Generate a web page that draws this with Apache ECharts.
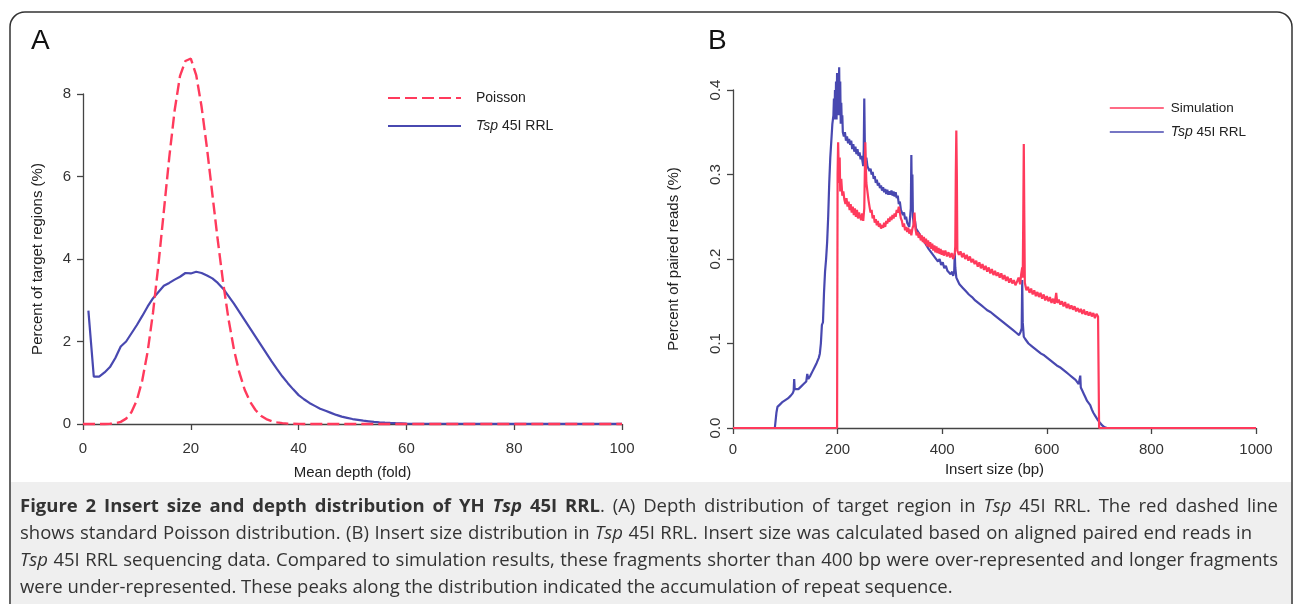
<!DOCTYPE html>
<html>
<head>
<meta charset="utf-8">
<script src="https://cdn.jsdelivr.net/npm/echarts@6.0.0/dist/echarts.min.js"></script>
<style>
  html, body { margin: 0; padding: 0; background: #fff; }
  #chart { width: 1295px; height: 604px; }
</style>
</head>
<body>
<div id="chart"></div>
<script>
// panel A: depth distribution
const depth = [0,1,2,3,4,5,6,7,8,9,10,11,12,13,14,15,16,17,18,19,20,21,22,23,24,25,26,27,28,29,30,
  31,32,33,34,35,36,37,38,39,40,41,42,43,44,45,46,47,48,49,50,51,52,53,54,55,56,57,58,59,60,70,80,90,100]
const poisson = [0,0,0,0,0,0.005,0.018,0.052,0.13,0.29,0.58,1.06,1.76,2.71,3.87,5.16,6.46,7.6,8.44,8.8,8.86,
  8.46,7.69,6.69,5.57,4.46,3.43,2.54,1.81,1.25,0.83,0.54,0.34,0.2,0.12,0.07,0.04,0.02,0.01,0.006,0.003,
  0,0,0,0,0,0,0,0,0,0,0,0,0,0,0,0,0,0,0,0,0,0,0,0]
const tspDepth = [null,2.75,1.15,1.15,1.25,1.38,1.6,1.88,2.0,2.2,2.4,2.62,2.85,3.05,3.2,3.35,3.42,3.5,3.57,3.66,3.65,
  3.69,3.66,3.6,3.53,3.42,3.28,3.1,2.92,2.72,2.52,2.32,2.12,1.92,1.72,1.52,1.33,1.15,0.99,0.84,0.7,
  0.6,0.51,0.44,0.37,0.32,0.27,0.22,0.18,0.15,0.12,0.1,0.08,0.065,0.05,0.04,0.032,0.025,0.02,0.016,0.012,
  0.006,0.004,0.003,0.003]
const depthTicks = [0,20,40,60,80,100]
const pctTicks = [0,2,4,6,8]

// panel B: insert size distribution, [bp, percent]
const simB = [[0,0],[199,0],[200,0.3],[201,0.338],[202,0.31],[203,0.29],[204,0.32],[205,0.28],[207,0.295],[209,0.275],
  [211,0.28],[213,0.27],[215,0.265],[217,0.272],[219,0.262],[221,0.268],[223,0.258],[225,0.265],[227,0.255],[229,0.262],
  [231,0.252],[233,0.26],[235,0.25],[237,0.258],[239,0.248],[241,0.255],[243,0.25],[245,0.246],[247,0.254],[249,0.245],
  [251,0.26],[252,0.3],[253,0.338],[254,0.31],[255,0.29],[257,0.28],[259,0.27],[261,0.262],[263,0.255],[265,0.258],
  [267,0.248],[269,0.252],[271,0.243],[273,0.247],[275,0.24],[277,0.245],[279,0.238],[281,0.242],[283,0.236],[285,0.24],
  [287,0.237],[289,0.243],[291,0.238],[293,0.245],[295,0.242],[297,0.248],[299,0.244],[301,0.25],[303,0.246],[305,0.252],
  [307,0.248],[309,0.254],[311,0.25],[313,0.258],[315,0.255],[317,0.262],[319,0.255],[321,0.248],[323,0.245],[325,0.238],
  [327,0.242],[329,0.234],[331,0.238],[333,0.232],[335,0.237],[337,0.23],[339,0.235],[341,0.228],[343,0.236],[345,0.24],
  [347,0.255],[349,0.235],[351,0.228],[353,0.232],[355,0.225],[357,0.23],[359,0.222],[361,0.228],[363,0.22],[365,0.226],
  [367,0.218],[369,0.224],[371,0.215],[373,0.222],[375,0.214],[377,0.22],[379,0.212],[381,0.218],[383,0.21],[385,0.216],
  [387,0.208],[389,0.215],[391,0.207],[393,0.213],[395,0.206],[397,0.212],[399,0.205],[401,0.21],[403,0.204],[406,0.21],
  [409,0.203],[412,0.208],[415,0.202],[418,0.207],[421,0.2],[424,0.206],[425,0.215],[426,0.3],[427,0.352],[428,0.3],
  [429,0.21],[432,0.205],[435,0.209],[438,0.202],[441,0.207],[444,0.2],[447,0.205],[450,0.198],[453,0.203],[456,0.196],
  [459,0.2],[462,0.194],[465,0.198],[468,0.191],[471,0.196],[474,0.189],[477,0.194],[480,0.187],[483,0.192],[486,0.185],
  [489,0.19],[492,0.183],[495,0.188],[498,0.181],[501,0.186],[504,0.18],[507,0.184],[510,0.178],[513,0.183],[516,0.176],
  [519,0.181],[522,0.174],[525,0.179],[528,0.172],[531,0.177],[534,0.171],[537,0.175],[540,0.169],[543,0.173],[546,0.178],
  [549,0.17],[551,0.182],[553,0.19],[554,0.178],[555,0.25],[556,0.336],[557,0.25],[558,0.172],[561,0.163],[564,0.167],
  [567,0.16],[570,0.165],[573,0.158],[576,0.163],[579,0.156],[582,0.161],[585,0.155],[588,0.16],[591,0.153],[594,0.158],
  [597,0.151],[600,0.156],[603,0.15],[606,0.155],[609,0.148],[612,0.153],[615,0.147],[618,0.16],[620,0.148],[623,0.152],
  [626,0.146],[629,0.15],[632,0.144],[635,0.149],[638,0.142],[641,0.147],[644,0.141],[647,0.145],[650,0.14],[653,0.144],
  [656,0.138],[659,0.142],[662,0.137],[665,0.141],[668,0.135],[671,0.14],[674,0.134],[677,0.138],[680,0.133],[683,0.137],
  [686,0.132],[689,0.136],[692,0.13],[695,0.135],[698,0.132],[699,0.13],[700,0],[1000,0]]
const tspB = [[0,0],[80,0],[83,0.018],[85,0.025],[90,0.028],[95,0.031],[100,0.033],[105,0.035],[110,0.038],[114,0.041],
  [116,0.044],[117,0.058],[118,0.046],[120,0.044],[125,0.046],[130,0.049],[135,0.052],[140,0.055],[142,0.064],[144,0.058],
  [148,0.062],[152,0.067],[156,0.072],[160,0.077],[164,0.083],[166,0.088],[168,0.1],[170,0.122],[172,0.125],[174,0.16],
  [176,0.185],[178,0.2],[180,0.22],[182,0.25],[184,0.29],[186,0.32],[188,0.34],[190,0.36],[192,0.37],[193,0.39],
  [194,0.365],[195,0.4],[196,0.37],[197,0.41],[198,0.365],[199,0.42],[200,0.37],[201,0.415],[202,0.38],[203,0.427],
  [204,0.37],[205,0.41],[206,0.36],[207,0.385],[208,0.36],[209,0.37],[210,0.35],[212,0.345],[214,0.35],[216,0.34],
  [218,0.345],[220,0.337],[222,0.342],[224,0.335],[226,0.34],[228,0.33],[230,0.336],[232,0.327],[234,0.333],[236,0.324],
  [238,0.33],[240,0.322],[242,0.326],[244,0.318],[246,0.322],[248,0.314],[249,0.31],[250,0.33],[251,0.39],[252,0.34],
  [253,0.31],[255,0.32],[257,0.31],[259,0.312],[261,0.304],[263,0.307],[265,0.3],[267,0.303],[269,0.295],[271,0.298],
  [273,0.29],[275,0.294],[277,0.287],[279,0.29],[281,0.284],[283,0.287],[285,0.281],[287,0.285],[289,0.279],[291,0.283],
  [293,0.277],[295,0.282],[297,0.276],[299,0.28],[301,0.276],[303,0.281],[305,0.275],[307,0.28],[309,0.274],[311,0.279],
  [313,0.272],[315,0.275],[317,0.265],[319,0.268],[321,0.258],[323,0.26],[325,0.252],[327,0.255],[329,0.247],[331,0.25],
  [333,0.243],[335,0.245],[337,0.238],[339,0.24],[340,0.26],[341,0.323],[342,0.27],[343,0.3],[344,0.25],[346,0.24],
  [348,0.245],[350,0.236],[353,0.238],[356,0.23],[359,0.232],[362,0.224],[365,0.226],[368,0.218],[371,0.22],[374,0.212],
  [377,0.214],[380,0.207],[383,0.209],[386,0.202],[389,0.204],[392,0.197],[395,0.2],[398,0.193],[401,0.196],[404,0.189],
  [407,0.192],[410,0.186],[413,0.188],[416,0.182],[419,0.185],[421,0.18],[423,0.186],[424,0.207],[425,0.19],[427,0.178],
  [430,0.174],[433,0.17],[436,0.172],[439,0.166],[442,0.168],[445,0.162],[448,0.164],[451,0.158],[454,0.16],[457,0.155],
  [460,0.157],[463,0.151],[466,0.153],[469,0.148],[472,0.15],[475,0.145],[478,0.147],[481,0.142],[484,0.144],[487,0.139],
  [490,0.141],[493,0.137],[496,0.139],[499,0.134],[502,0.136],[505,0.131],[508,0.133],[511,0.128],[514,0.13],[517,0.125],
  [520,0.127],[523,0.122],[526,0.124],[529,0.119],[532,0.121],[535,0.116],[538,0.118],[541,0.113],[544,0.115],[547,0.11],
  [550,0.114],[552,0.118],[553,0.175],[554,0.125],[556,0.108],[559,0.105],[562,0.103],[565,0.1],[568,0.101],[571,0.097],
  [574,0.098],[577,0.094],[580,0.095],[583,0.091],[586,0.092],[589,0.088],[592,0.089],[595,0.086],[598,0.087],[601,0.083],
  [604,0.084],[607,0.08],[610,0.081],[613,0.077],[616,0.078],[619,0.074],[622,0.076],[625,0.072],[628,0.073],[631,0.069],
  [634,0.07],[637,0.066],[640,0.067],[643,0.063],[646,0.064],[649,0.06],[652,0.06],[655,0.057],[658,0.055],[661,0.052],
  [663,0.05],[664,0.062],[665,0.048],[668,0.044],[671,0.04],[674,0.036],[677,0.032],[680,0.03],[683,0.027],[686,0.022],
  [689,0.018],[692,0.015],[695,0.012],[698,0.009],[702,0.006],[706,0.003],[710,0.001],[715,0],[1000,0]]
const insertTicks = [0,200,400,600,800,1000]
const readTicks = [0,0.1,0.2,0.3,0.4]

// caption: [style, text] runs per line
const capLines = [
    [['b', 'Figure 2 Insert size and depth distribution of YH '], ['bi', 'Tsp'], ['b', ' 45I RRL'],
     ['n', '. (A) Depth distribution of target region in '], ['i', 'Tsp'], ['n', ' 45I RRL. The red dashed line']],
    [['n', 'shows standard Poisson distribution. (B) Insert size distribution in '], ['i', 'Tsp'],
     ['n', ' 45I RRL. Insert size was calculated based on aligned paired end reads in']],
    [['i', 'Tsp'], ['n', ' 45I RRL sequencing data. Compared to simulation results, these fragments shorter than 400 bp were over-represented and longer fragments']],
    [['n', 'were under-represented. These peaks along the distribution indicated the accumulation of repeat sequence.']]
]
// right edge each line is spread to (null = natural width)
const capRight = [1278, 1252, 1278, null]

const RED = '#ff3a5c'
const BLUE = '#4848b0'
const AXIS = '#444'
const FONT = 'Liberation Sans, Arial, sans-serif'
const CAP = 'Open Sans'
const CAP_SIZE = 18.5

const axisCommon = {
    axisLine: { show: true, lineStyle: { color: AXIS, width: 1.3 } },
    axisTick: { show: true, length: 6, lineStyle: { color: AXIS, width: 1.3 } },
    splitLine: { show: false },
    axisLabel: { color: '#333', fontSize: 15, fontFamily: FONT },
    nameTextStyle: { color: '#222', fontSize: 15, fontFamily: FONT }
}

const legendRich = { i: { fontStyle: 'italic', fontSize: 14, fontFamily: FONT, color: '#222' } }
const legendFmt = name => name === 'Tsp 45I RRL' ? '{i|Tsp} 45I RRL' : name

// caption layout: words placed one by one so lines can be justified
const capStyle = {
    b: { fontWeight: 'bold', fontStyle: 'normal', color: '#222' },
    bi: { fontWeight: 'bold', fontStyle: 'italic', color: '#222' },
    n: { fontWeight: 'normal', fontStyle: 'normal', color: '#333' },
    i: { fontWeight: 'normal', fontStyle: 'italic', color: '#333' }
}
const capRich = {}
Object.keys(capStyle).forEach(k => {
    capRich[k] = Object.assign({ fontFamily: CAP, fontSize: CAP_SIZE }, capStyle[k])
})
const ctx = document.createElement('canvas').getContext('2d')
const measure = (k, s) => {
    const st = capStyle[k]
    ctx.font = st.fontStyle + ' ' + st.fontWeight + ' ' + CAP_SIZE + 'px "' + CAP + '"'
    return ctx.measureText(s).width
}
const capElements = []
capLines.forEach((runs, li) => {
    const words = []
    let cur = []
    runs.forEach(([k, txt]) => {
        txt.split(/( )/).forEach(part => {
            if (part === ' ') { if (cur.length) words.push(cur); cur = [] }
            else if (part) cur.push([k, part])
        })
    })
    if (cur.length) words.push(cur)
    const widths = words.map(w => w.reduce((s, [k, t]) => s + measure(k, t), 0))
    const total = widths.reduce((a, b) => a + b, 0)
    const left = 20
    let gap = measure('n', ' ')
    if (capRight[li] && words.length > 1) gap = Math.max(gap, (capRight[li] - left - total) / (words.length - 1))
    let x = left
    words.forEach((w, wi) => {
        capElements.push({
            type: 'text', z: 10, silent: true, x: x, y: 507 + li * 27,
            style: {
                text: w.map(([k, t]) => '{' + k + '|' + t + '}').join(''),
                rich: capRich, fontFamily: CAP, fontSize: CAP_SIZE, fill: '#333', verticalAlign: 'middle'
            }
        })
        x += widths[wi] + gap
    })
})

const chart = echarts.init(document.getElementById('chart'), null, { renderer: 'canvas' })

const option = {
    animation: false,
    backgroundColor: '#fff',
    title: [
        { text: 'A', left: 26, top: 22, textStyle: { fontSize: 28, fontWeight: 'normal', color: '#111', fontFamily: FONT } },
        { text: 'B', left: 703, top: 22, textStyle: { fontSize: 28, fontWeight: 'normal', color: '#111', fontFamily: FONT } }
    ],
    legend: [
        {
            data: ['Poisson', 'Tsp 45I RRL'], orient: 'vertical', left: 382, top: 86,
            itemWidth: 73, itemHeight: 14, itemGap: 14, selectedMode: false,
            itemStyle: { opacity: 0 },
            formatter: legendFmt,
            textStyle: { color: '#222', fontSize: 14, fontFamily: FONT, padding: [0, 0, 0, 10], rich: legendRich }
        },
        {
            data: ['Simulation', 'Tsp 45I RRL'], orient: 'vertical', left: 1104, top: 96,
            itemWidth: 54, itemHeight: 12, itemGap: 10, selectedMode: false,
            itemStyle: { opacity: 0 }, lineStyle: { width: 1.6 },
            formatter: legendFmt,
            textStyle: { color: '#222', fontSize: 13.5, fontFamily: FONT, padding: [0, 0, 0, 2], rich: legendRich }
        }
    ],
    grid: [
        { left: 83, top: 94, width: 539, height: 330, outerBoundsMode: 'none' },
        { left: 733, top: 90, width: 523, height: 338, outerBoundsMode: 'none' }
    ],
    xAxis: [
        Object.assign({}, axisCommon, {
            type: 'value', gridIndex: 0,
            min: depthTicks[0], max: depthTicks[depthTicks.length - 1], interval: depthTicks[1] - depthTicks[0],
            name: 'Mean depth (fold)', nameLocation: 'middle', nameGap: 41,
            axisLabel: Object.assign({}, axisCommon.axisLabel, { margin: 17, formatter: v => String(v) })
        }),
        Object.assign({}, axisCommon, {
            type: 'value', gridIndex: 1,
            min: insertTicks[0], max: insertTicks[insertTicks.length - 1], interval: insertTicks[1] - insertTicks[0],
            name: 'Insert size (bp)', nameLocation: 'middle', nameGap: 34,
            axisLabel: Object.assign({}, axisCommon.axisLabel, { margin: 14, formatter: v => String(v) })
        })
    ],
    yAxis: [
        Object.assign({}, axisCommon, {
            type: 'value', gridIndex: 0,
            min: pctTicks[0], max: pctTicks[pctTicks.length - 1], interval: pctTicks[1] - pctTicks[0],
            name: 'Percent of target regions (%)', nameLocation: 'middle', nameGap: 38,
            axisLabel: Object.assign({}, axisCommon.axisLabel, { margin: 12 })
        }),
        Object.assign({}, axisCommon, {
            type: 'value', gridIndex: 1,
            min: readTicks[0], max: readTicks[readTicks.length - 1], interval: readTicks[1] - readTicks[0],
            name: 'Percent of paired reads (%)', nameLocation: 'middle', nameGap: 52,
            axisLabel: Object.assign({}, axisCommon.axisLabel, {
                margin: 10, rotate: 90, formatter: v => v.toFixed(1)
            })
        })
    ],
    series: [
        {
            name: 'Poisson', type: 'line', xAxisIndex: 0, yAxisIndex: 0, symbol: 'none', clip: false,
            lineStyle: { color: RED, width: 2.4, type: [12, 5] }, itemStyle: { color: RED },
            data: depth.map((d, i) => [d, poisson[i]]), z: 3
        },
        {
            name: 'Tsp 45I RRL', type: 'line', xAxisIndex: 0, yAxisIndex: 0, symbol: 'none', clip: false,
            lineStyle: { color: BLUE, width: 2.2 }, itemStyle: { color: BLUE },
            data: depth.map((d, i) => [d, tspDepth[i]]), z: 2
        },
        {
            name: 'Simulation', type: 'line', xAxisIndex: 1, yAxisIndex: 1, symbol: 'none', clip: false,
            lineStyle: { color: RED, width: 2.2 }, itemStyle: { color: RED },
            data: simB, z: 3
        },
        {
            name: 'Tsp 45I RRL', type: 'line', xAxisIndex: 1, yAxisIndex: 1, symbol: 'none', clip: false,
            lineStyle: { color: BLUE, width: 2.2 }, itemStyle: { color: BLUE },
            data: tspB, z: 2
        }
    ],
    graphic: [
        {
            type: 'rect', z: -10, silent: true,
            shape: { x: 11, y: 482, width: 1280, height: 130 },
            style: { fill: '#efefef' }
        },
        {
            type: 'rect', z: 10, silent: true,
            shape: { x: 10, y: 12, width: 1282, height: 640, r: [15, 15, 0, 0] },
            style: { fill: null, stroke: '#333', lineWidth: 1.5 }
        }
    ].concat(capElements)
}

chart.setOption(option)
</script>
</body>
</html>
